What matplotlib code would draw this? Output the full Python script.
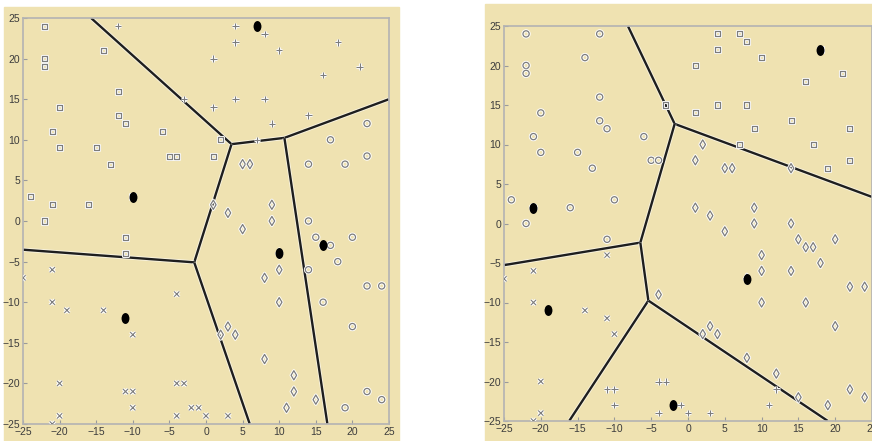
import numpy as np
import matplotlib
matplotlib.use("Agg")
from matplotlib import pyplot as plt
from matplotlib.patches import Rectangle
from matplotlib.path import Path
from matplotlib.transforms import Affine2D
import matplotlib.patheffects as pe

# the same 100 points are shown in both panels
pts_x = [-22, -22, -22, -14, -12, -20, -12, -11, -21, -6, -20, -15, -13, -5, -4,
         -24, -21, -16, -22, -10, -12, -3, 4, 7, 8, 4, 10, 18, 1, 16,
         21, 4, 8, 1, 14, 9, 7, 2, 1, 22, 17, 22, 14, 19, 5,
         6, 9, 3, 1, 9, 14, -11, -11, -21, -25, -21, -19, -14, -11, -10,
         -4, -20, -11, -10, -4, -3, -10, -2, -1, -20, -4, 0, -21, 5, 15,
         20, 16, 17, 10, 18, 10, 14, 8, 22, 24, 10, 16, 20, 3, 2,
         4, 8, 12, 12, 22, 15, 24, 11, 19, 3]
pts_y = [24, 20, 19, 21, 16, 14, 13, 12, 11, 11, 9, 9, 7, 8, 8,
         3, 2, 2, 0, 3, 24, 15, 24, 24, 23, 22, 21, 22, 20, 18,
         19, 15, 15, 14, 13, 12, 10, 10, 8, 12, 10, 8, 7, 7, 7,
         7, 2, 1, 2, 0, 0, -2, -4, -6, -7, -10, -11, -11, -12, -14,
         -9, -20, -21, -21, -20, -20, -23, -23, -23, -24, -24, -24, -25, -1, -2,
         -2, -3, -3, -4, -5, -6, -6, -7, -8, -8, -10, -10, -13, -13, -14,
         -14, -17, -19, -21, -21, -22, -22, -23, -23, -24]

# centres chosen in each panel and the marker used for each cluster
centres_left = [(7, 24), (-10, 3), (10, -4), (16, -3), (-11, -12)]
markers_left = ['+', 's', 'd', 'o', 'x']
centres_right = [(18, 22), (-21, 2), (-19, -11), (8, -7), (-2, -23)]
markers_right = ['s', 'o', 'x', 'd', '+']

ticks = [-25, -20, -15, -10, -5, 0, 5, 10, 15, 20, 25]

beige = '#EFE2B1'
grey = '#7d7d7d'


def voronoi_edges(centres, lim=25, n=4000):
    c = np.array(centres, float)
    segs = []
    for i in range(len(c)):
        for j in range(i + 1, len(c)):
            mid = (c[i] + c[j]) / 2
            d = c[j] - c[i]
            perp = np.array([-d[1], d[0]]) / np.hypot(d[0], d[1])
            t = np.linspace(-120, 120, n)
            p = mid + t[:, None] * perp
            dist = np.hypot(p[:, None, 0] - c[None, :, 0], p[:, None, 1] - c[None, :, 1])
            others = np.delete(dist, [i, j], axis=1).min(axis=1)
            ok = (dist[:, i] <= others + 1e-9) & (np.abs(p[:, 0]) <= lim) & (np.abs(p[:, 1]) <= lim)
            if ok.any():
                segs.append(p[ok])
    return segs


ellipse = Path.unit_circle().transformed(Affine2D().scale(0.72, 1.0))
halo = [pe.withStroke(linewidth=2.2, foreground='white')]


def draw_panel(ax, centres, markers):
    x = np.array(pts_x)
    y = np.array(pts_y)
    c = np.array(centres)
    dist = np.hypot(x[:, None] - c[None, :, 0], y[:, None] - c[None, :, 1])
    lab = dist.argmin(axis=1)

    for seg in voronoi_edges(centres):
        ax.plot(seg[:, 0], seg[:, 1], color='#1e1e1e', lw=1.7, zorder=2,
                solid_capstyle='butt',
                path_effects=[pe.Stroke(linewidth=3.0, foreground='white', alpha=0.6), pe.Normal()])

    sizes = {'s': 13, 'o': 20, 'd': 22, '+': 22, 'x': 14}
    for k, m in enumerate(markers):
        sel = lab == k
        if m in ('+', 'x'):
            ax.scatter(x[sel], y[sel], marker=m, s=sizes[m], c=grey, lw=0.8,
                       zorder=3, path_effects=halo)
        else:
            ax.scatter(x[sel], y[sel], marker=m, s=sizes[m], facecolors='none',
                       edgecolors=grey, lw=0.9, zorder=3, path_effects=halo)

    ax.scatter(c[:, 0], c[:, 1], marker=ellipse, s=62, c='black', lw=0, zorder=4)

    ax.set_xlim(-25, 25)
    ax.set_ylim(-25, 25)
    ax.set_xticks(ticks)
    ax.set_yticks(ticks)
    ax.set_facecolor(beige)
    for s in ax.spines.values():
        s.set_color('#b3b3b3')
        s.set_linewidth(1.2)
    ax.tick_params(direction='in', length=3, width=0.8, color='#9a9a9a',
                   labelsize=7.5, labelcolor='#3c3c3c', pad=2)


plt.rcParams['font.family'] = ['Liberation Sans', 'DejaVu Sans']

fig = plt.figure(figsize=(8.72, 4.41), dpi=100)
W, H = 872, 441
fig.add_artist(Rectangle((4 / W, 0), 395 / W, 434 / H, transform=fig.transFigure,
                         color=beige, zorder=0))
fig.add_artist(Rectangle((485 / W, 0), 387 / W, 437 / H, transform=fig.transFigure,
                         color=beige, zorder=0))

ax1 = fig.add_axes([23 / W, 17 / H, 366 / W, 406 / H])
ax2 = fig.add_axes([504 / W, 20 / H, 368 / W, 395 / H])

draw_panel(ax1, centres_left, markers_left)
draw_panel(ax2, centres_right, markers_right)

fig.savefig('out.png', dpi=100)
